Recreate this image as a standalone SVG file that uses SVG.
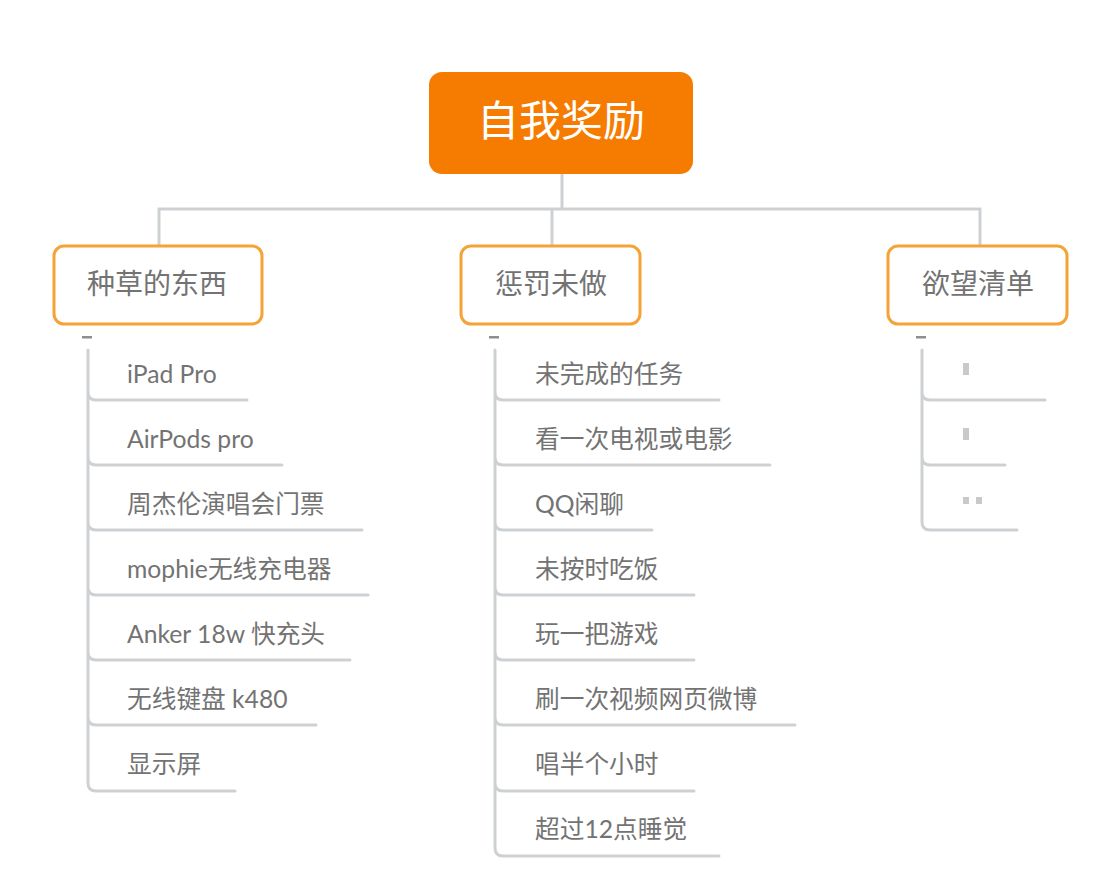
<svg xmlns="http://www.w3.org/2000/svg" width="1120" height="895" viewBox="0 0 1120 895">
<style>
.ln{fill:none;stroke:#CED1D3;stroke-width:3;stroke-linecap:round}
.box{fill:#fff;stroke:#F5A337;stroke-width:3}
.t1{font-family:"Noto Sans CJK SC","Noto Sans",sans-serif;font-size:28px;fill:#737373;text-anchor:middle}
.it{font-family:"Lato","Noto Sans CJK SC",sans-serif;font-size:24.7px;fill:#737373}
.dash{fill:#8E8E8E}
.blur{fill:#C9C9C9}
</style>
<rect width="1120" height="895" fill="#fff"/>
<g id="connectors">
<path class="ln" d="M562 174V209M159 246V209H980V246M552 209V246"/>
<path class="ln" d="M88 350V392Q88 400 96 400H247M88 392V457Q88 465 96 465H282M88 457V522Q88 530 96 530H362M88 522V587Q88 595 96 595H368M88 587V652Q88 660 96 660H350M88 652V717Q88 725 96 725H316M88 717V783Q88 791 96 791H235"/>
<path class="ln" d="M495 350V392Q495 400 503 400H719M495 392V457Q495 465 503 465H770M495 457V522Q495 530 503 530H652M495 522V587Q495 595 503 595H694M495 587V652Q495 660 503 660H694M495 652V717Q495 725 503 725H795M495 717V783Q495 791 503 791H694M495 783V848Q495 856 503 856H719"/>
<path class="ln" d="M922 350V392Q922 400 930 400H1045M922 392V457Q922 465 930 465H1005M922 457V522Q922 530 930 530H1017"/>
</g>
<g id="root">
<rect x="429" y="72" width="264" height="102" rx="13" fill="#F57C00"/>
<text x="561" y="136" font-family="Noto Sans CJK SC,Noto Sans,sans-serif" font-size="42" fill="#fff" text-anchor="middle">自我奖励</text>
</g>
<g id="n-zhongcao">
<rect class="box" x="54" y="246" width="208" height="78" rx="10"/>
<text class="t1" x="157" y="294">种草的东西</text>
<rect class="dash" x="82" y="336" width="10" height="2.5"/>
</g>
<g id="n-chengfa">
<rect class="box" x="461" y="246" width="179" height="78" rx="10"/>
<text class="t1" x="551" y="294">惩罚未做</text>
<rect class="dash" x="489" y="336" width="10" height="2.5"/>
</g>
<g id="n-yuwang">
<rect class="box" x="888" y="246" width="179" height="78" rx="10"/>
<text class="t1" x="978" y="294">欲望清单</text>
<rect class="dash" x="916" y="336" width="10" height="2.5"/>
</g>
<g id="items-zhongcao">
<text class="it" x="127" y="383">iPad Pro</text>
<text class="it" x="127" y="448">AirPods pro</text>
<text class="it" x="127" y="513">周杰伦演唱会门票</text>
<text class="it" x="127" y="578">mophie无线充电器</text>
<text class="it" x="127" y="643">Anker 18w 快充头</text>
<text class="it" x="127" y="708">无线键盘 k480</text>
<text class="it" x="127" y="773">显示屏</text>
</g>
<g id="items-chengfa">
<text class="it" x="535" y="383">未完成的任务</text>
<text class="it" x="535" y="448">看一次电视或电影</text>
<text class="it" x="535" y="513">QQ闲聊</text>
<text class="it" x="535" y="578">未按时吃饭</text>
<text class="it" x="535" y="643">玩一把游戏</text>
<text class="it" x="535" y="708">刷一次视频网页微博</text>
<text class="it" x="535" y="773">唱半个小时</text>
<text class="it" x="535" y="838">超过12点睡觉</text>
</g>
<g id="items-yuwang">
<rect class="blur" x="963" y="363" width="6" height="12"/>
<rect class="blur" x="963" y="428" width="6" height="12"/>
<rect class="blur" x="963" y="497" width="6" height="7"/>
<rect class="blur" x="976" y="497" width="6" height="7"/>
</g>
</svg>
